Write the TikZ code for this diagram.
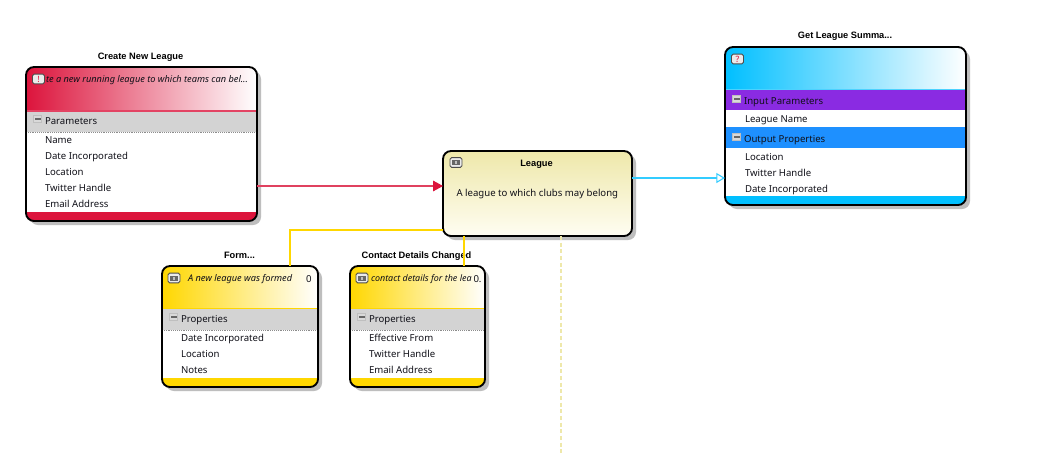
\documentclass[tikz,border=0pt]{standalone}
\usepackage{fontspec}
\usetikzlibrary{arrows.meta}
\setmainfont{Noto Sans}
\newfontfamily\titlefont{Liberation Sans}
\definecolor{crim}{HTML}{DC143C}
\definecolor{crimline}{HTML}{E0415F}
\definecolor{gld}{HTML}{FFD700}
\definecolor{dsky}{HTML}{00BFFF}
\definecolor{skyline}{HTML}{33CCFF}
\definecolor{viol}{HTML}{8A2BE2}
\definecolor{dodg}{HTML}{1E90FF}
\definecolor{sect}{HTML}{D3D3D3}
\definecolor{pale}{HTML}{EEE8AA}
\definecolor{palel}{HTML}{FFFDF2}
\definecolor{shad}{HTML}{BEBEBE}
\definecolor{ink}{HTML}{101018}
\newcounter{tn}
\tikzset{
  x=0.75pt,y=-0.75pt,
  base text/.style={inner sep=0pt,outer sep=0pt,text=ink,font=\fontsize{7.2pt}{9pt}\selectfont},
  rowtext/.style={base text,anchor=base west},
  desctext/.style={base text,anchor=base west,font=\fontsize{6.9pt}{9pt}\selectfont\itshape},
  narrowdesc/.style={base text,anchor=base west,font=\fontsize{6.7pt}{9pt}\selectfont\itshape},
  titletext/.style={base text,anchor=base,text=black,font=\titlefont\fontsize{6.95pt}{9pt}\selectfont\bfseries},
  cardbox/.style={draw=black,line width=1.4pt,rounded corners=6pt,inner sep=0pt,outer sep=0pt},
  iconbox/.style={draw=black!70,fill=white!92!black,line width=0.7pt,rounded corners=1.2pt,minimum width=9pt,minimum height=7.2pt,inner sep=0pt,text=crim,font=\fontsize{6.5pt}{6.5pt}\selectfont\bfseries},
  foldbox/.style={fill=black!15,draw=white!75!black,line width=0.4pt,minimum width=6pt,minimum height=5.4pt,inner sep=0pt},
  link/.style={line width=0.8pt},
  yellowlink/.style={gld,line width=1.5pt},
}
% #1 left #2 top #3 right #4 bottom
\newcommand{\cardshadow}[4]{\fill[shad,rounded corners=6pt] (#1+4,#2+4) rectangle (#3+4,#4+4);\fill[white,rounded corners=6pt] (#1,#2) rectangle (#3,#4);}
% #1 name #2 left #3 top #4 right #5 bottom
\newcommand{\cardframe}[5]{\node[cardbox,minimum width={(#4-#2)*0.75pt},minimum height={(#5-#3)*0.75pt}] (#1) at ({(#2+#4)/2},{(#3+#5)/2}) {};}
\newcommand{\lab}[4]{\stepcounter{tn}\node[#1] (t\thetn) at (#2,#3) {#4};}
% #1 left #2 y #3 text
\newcommand{\sechead}[3]{%
  \stepcounter{tn}\node[foldbox] (f\thetn) at (#1+6.5,#2-1.5) {};
  \fill[black!60] (#1+3.5,#2-2.5) rectangle (#1+9.5,#2-0.5);
  \lab{rowtext}{#1+14}{#2+4}{#3}}
\newcommand{\picon}[3]{\stepcounter{tn}\node[iconbox] (i\thetn) at (#1,#2) {#3};}
% event icon: light box with a dark plate
\newcommand{\eicon}[2]{\picon{#1}{#2}{}\fill[black!60] (#1-4,#2-2.5) rectangle (#1+4,#2+2.5);\fill[black!25] (#1-1,#2-1.5) rectangle (#1+1,#2+1.5);}
\begin{document}
\begin{tikzpicture}
\useasboundingbox (0,0) rectangle (1048,454);
\fill[white] (0,0) rectangle (1048,454);

% Create New League
\cardshadow{26}{67}{257}{221}
\begin{scope}
\clip[rounded corners=6pt] (26,67) rectangle (257,221);
\shade[left color=crim,right color=white] (26,67) rectangle (257,110);
\fill[crim!80] (26,110) rectangle (257,111.5);
\fill[sect] (26,111.5) rectangle (257,132);
\draw[black!45,line width=0.4pt,densely dotted] (26,132) -- (257,132);
\fill[crim] (26,212) rectangle (257,221);
\end{scope}
\cardframe{create}{26}{67}{257}{221}
\lab{titletext}{140.5}{59}{Create New League}
\lab{desctext}{46}{82}{te a new running league to which teams can bel...}
\picon{38.5}{79}{!}
\sechead{31}{120}{Parameters}
\lab{rowtext}{45}{143.2}{Name}
\lab{rowtext}{45}{159.2}{Date Incorporated}
\lab{rowtext}{45}{175.2}{Location}
\lab{rowtext}{45}{191.2}{Twitter Handle}
\lab{rowtext}{45}{207.2}{Email Address}

% Get League Summary
\cardshadow{725}{47}{966}{205}
\begin{scope}
\clip[rounded corners=6pt] (725,47) rectangle (966,205);
\shade[left color=dsky,right color=white] (725,47) rectangle (966,89);
\fill[dsky!70] (725,89) rectangle (966,90);
\fill[viol] (725,90) rectangle (966,110);
\fill[dodg] (725,127) rectangle (966,148);
\fill[dsky] (725,196) rectangle (966,205);
\end{scope}
\cardframe{summary}{725}{47}{966}{205}
\lab{titletext}{845}{38}{Get League Summa...}
\picon{737.5}{59}{?}
\sechead{730}{100}{Input Parameters}
\lab{rowtext}{745}{122}{League Name}
\sechead{730}{138}{Output Properties}
\lab{rowtext}{745}{160}{Location}
\lab{rowtext}{745}{176}{Twitter Handle}
\lab{rowtext}{745}{192}{Date Incorporated}

% Form
\cardshadow{162}{266}{318}{387}
\begin{scope}
\clip[rounded corners=6pt] (162,266) rectangle (318,387);
\shade[left color=gld,right color=white] (162,266) rectangle (318,308);
\fill[gld] (162,308) rectangle (318,309);
\fill[sect] (162,309) rectangle (318,330);
\draw[black!45,line width=0.4pt,densely dotted] (162,330) -- (318,330);
\fill[gld] (162,378) rectangle (318,387);
\end{scope}
\cardframe{form}{162}{266}{318}{387}
\lab{titletext}{239.5}{258}{Form...}
\eicon{174}{278}
\lab{desctext}{188}{281}{A new league was formed}
\lab{rowtext}{306}{282}{0}
\sechead{167}{318}{Properties}
\lab{rowtext}{181}{341.2}{Date Incorporated}
\lab{rowtext}{181}{357.2}{Location}
\lab{rowtext}{181}{373.2}{Notes}

% Contact Details Changed
\cardshadow{350}{266}{485}{387}
\begin{scope}
\clip[rounded corners=6pt] (350,266) rectangle (485,387);
\shade[left color=gld,right color=white] (350,266) rectangle (485,308);
\fill[gld] (350,308) rectangle (485,309);
\fill[sect] (350,309) rectangle (485,330);
\draw[black!45,line width=0.4pt,densely dotted] (350,330) -- (485,330);
\fill[gld] (350,378) rectangle (485,387);
\end{scope}
\cardframe{contact}{350}{266}{485}{387}
\lab{titletext}{416.5}{258}{Contact Details Changed}
\eicon{362}{278}
\lab{narrowdesc}{371}{281}{contact details for the lea}
\lab{rowtext}{473.5}{282}{0.}
\sechead{355}{318}{Properties}
\lab{rowtext}{369}{341.2}{Effective From}
\lab{rowtext}{369}{357.2}{Twitter Handle}
\lab{rowtext}{369}{373.2}{Email Address}

% League
\fill[shad,rounded corners=6pt] (447,155) rectangle (636,240);
\shade[top color=pale,bottom color=palel,rounded corners=6pt] (443,151) rectangle (632,236);
\cardframe{league}{443}{151}{632}{236}
\eicon{456}{162.5}
\lab{titletext}{536.5}{166}{League}
\lab{rowtext}{456.5}{196.5}{A league to which clubs may belong}

% Connectors
\coordinate (c1a) at (create.east |- 0,186);
\coordinate (c1b) at (league.west |- 0,186);
\draw[link,crimline,-{Triangle[length=7.5pt,width=8pt,color=crim]}] (c1a) -- (c1b);
\coordinate (c2a) at (league.east |- 0,178);
\coordinate (c2b) at (summary.west |- 0,178);
\draw[link,skyline,-{Triangle[open,fill=white,length=6.5pt,width=7.5pt]}] (c2a) -- (c2b);
\coordinate (c3a) at (league.west |- 0,230);
\coordinate (c3b) at (290,0 |- form.north);
\draw[yellowlink] (c3a) -| (c3b);
\coordinate (c4a) at (464,0 |- league.south);
\coordinate (c4b) at (464,0 |- contact.north);
\draw[yellowlink] (c4a) -- (c4b);
\coordinate (c5a) at (561,0 |- league.south);
\coordinate (c5b) at (561,454);
\draw[pale,line width=1pt,densely dashed] (c5a) -- (c5b);
\end{tikzpicture}
\end{document}
